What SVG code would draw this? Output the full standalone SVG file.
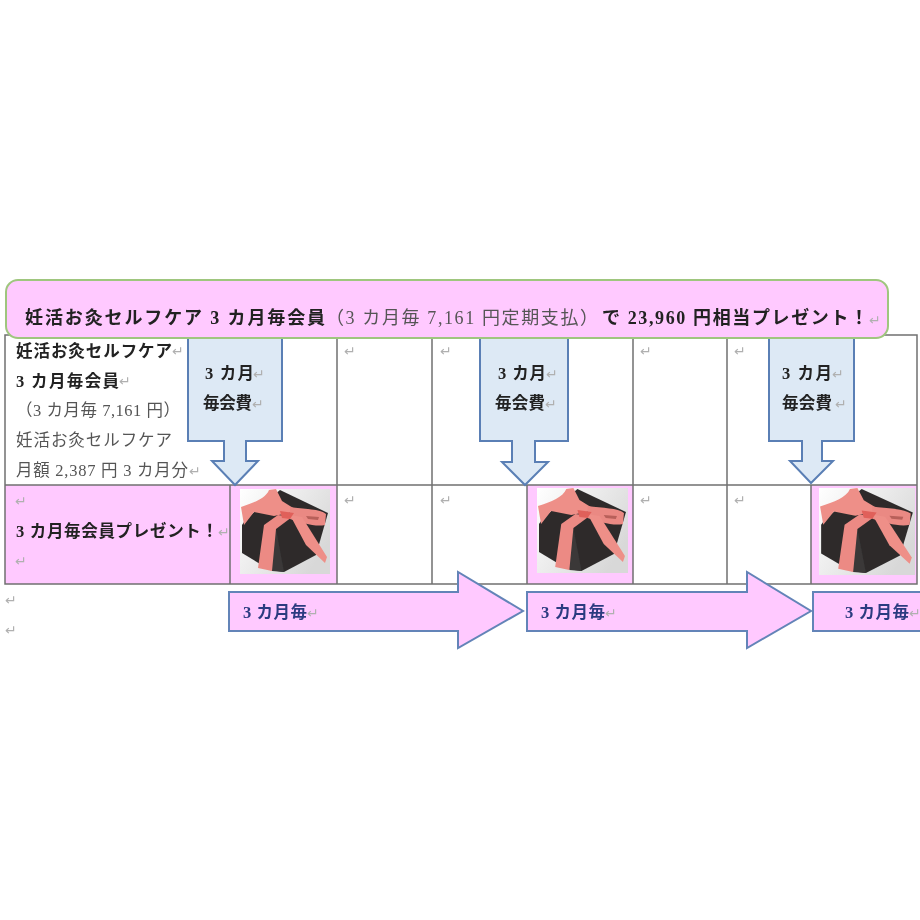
<svg xmlns="http://www.w3.org/2000/svg" width="920" height="920" viewBox="0 0 920 920">
<style>
text{font-family:"Liberation Serif","Noto Sans CJK JP",serif;fill:#222}
.b{font-weight:700}
.r{fill:#555}
.t{font-size:18px;font-weight:700;fill:#222}
.tr{font-size:18px;fill:#555}
.c{font-size:16.5px}
.m{font-family:"DejaVu Sans",sans-serif;font-size:14px;fill:#b0b0b0}
.l{stroke:#707070;stroke-width:1.5;fill:none}
.pink{fill:#ffc9ff}
.down{fill:#dde9f5;stroke:#5a7fb5;stroke-width:2}
.right{fill:#ffc9ff;stroke:#6484b8;stroke-width:2}
.n{font-size:16.5px;font-weight:700;fill:#2c3b80}
</style>
<defs>
<filter id="soft" x="-2%" y="-2%" width="104%" height="104%"><feGaussianBlur stdDeviation="0.7"/></filter>
<linearGradient id="bg" x1="0" y1="0" x2="1" y2="0.6"><stop offset="0" stop-color="#ffffff"/><stop offset="1" stop-color="#d8d8d8"/></linearGradient>
<symbol id="gift" viewBox="0 0 90 85" preserveAspectRatio="none">
<rect width="90" height="85" fill="url(#bg)"/>
<path d="M6 30 40 1 88 24 76 66 44 83 30 81 2 64 2 36Z" fill="#2e2c2c"/>
<path d="M36 40 44 83 32 82 26 42Z" fill="#3a3838"/>
<path d="M38 26 24 36 18 79 32 82 36 40 52 28Z" fill="#ec8a84"/>
<path d="M1 18C14 14 26 9 29 1L36 0 42 12 58 22 34 27 14 23 4 36Z" fill="#ee8f88"/>
<path d="M50 18C65 20 80 20 86 25L85 36C75 38 62 34 50 30Z" fill="#ea8983"/>
<path d="M50 26 62 28 87 68 85 74 66 56Z" fill="#ee8f88"/>
<path d="M66 27 79 28 78 31 68 30Z" fill="#b8605a"/>
<path d="M40 22 54 24 50 30 42 29Z" fill="#e0605a"/>
</symbol>
</defs>
<rect width="920" height="920" fill="#fff"/>
<g filter="url(#soft)">
<g id="table">
<rect class="pink" x="5" y="485" width="225" height="99"/>
<rect class="pink" x="230" y="485" width="107" height="99"/>
<rect class="pink" x="527" y="485" width="106" height="99"/>
<rect class="pink" x="811" y="485" width="106" height="99"/>
<path class="l" d="M5 335H917V584H5ZM5 485H917M337 335V584M432 335V584M633 335V584M727 335V584M230 485V584M527 485V584M811 485V584"/>
</g>
<g id="cell-text">
<text class="c b" x="16" y="357" textLength="156">妊活お灸セルフケア</text>
<text class="c b" x="16" y="387" textLength="103">3 カ月毎会員</text>
<text class="c r" x="16" y="416" textLength="164">（3 カ月毎 7,161 円）</text>
<text class="c r" x="16" y="446" textLength="156">妊活お灸セルフケア</text>
<text class="c r" x="16" y="476" textLength="172">月額 2,387 円 3 カ月分</text>
<text class="c b" x="16" y="537" textLength="202">3 カ月毎会員プレゼント！</text>
<text class="m" x="172" y="356">↵</text><text class="m" x="119" y="386">↵</text><text class="m" x="189" y="476">↵</text><text class="m" x="218" y="537">↵</text>
<text class="m" x="15" y="506">↵</text><text class="m" x="15" y="566">↵</text>
<text class="m" x="5" y="605">↵</text><text class="m" x="5" y="635">↵</text>
<text class="m" x="344" y="356">↵</text><text class="m" x="440" y="356">↵</text><text class="m" x="640" y="356">↵</text><text class="m" x="734" y="356">↵</text>
<text class="m" x="344" y="505">↵</text><text class="m" x="440" y="505">↵</text><text class="m" x="640" y="505">↵</text><text class="m" x="734" y="505">↵</text>
</g>
<g id="gift-1"><use href="#gift" x="240" y="489" width="90" height="85"/></g>
<g id="gift-2"><use href="#gift" x="537" y="488" width="91" height="85"/></g>
<g id="gift-3"><use href="#gift" x="819" y="488" width="96" height="87"/></g>
<g id="connectors">
<g id="down-1"><path class="down" d="M188 337H282V441H246V461H258L235 485 212 461H224V441H188Z"/>
<text class="c b" x="205" y="379" textLength="49">3 カ月</text><text class="c b" x="203" y="409" textLength="49">毎会費</text><text class="m" x="253" y="379">↵</text><text class="m" x="252" y="409">↵</text></g>
<g id="down-2"><path class="down" d="M480 337H568V441H535V462H548L525 485 502 462H512V441H480Z"/>
<text class="c b" x="498" y="379" textLength="48">3 カ月</text><text class="c b" x="495" y="409" textLength="50">毎会費</text><text class="m" x="546" y="379">↵</text><text class="m" x="545" y="409">↵</text></g>
<g id="down-3"><path class="down" d="M769 337H854V441H822V461H833L811 483 790 461H802V441H769Z"/>
<text class="c b" x="782" y="379" textLength="50">3 カ月</text><text class="c b" x="782" y="409" textLength="50">毎会費</text><text class="m" x="832" y="379">↵</text><text class="m" x="835" y="409">↵</text></g>
<g id="right-1"><path class="right" d="M229 592H458V572L523 611 458 648V631H229Z"/>
<text class="n" x="243" y="618" textLength="64">3 カ月毎</text><text class="m" x="307" y="618">↵</text></g>
<g id="right-2"><path class="right" d="M527 592H747V572L811 611 747 648V631H527Z"/>
<text class="n" x="541" y="618" textLength="64">3 カ月毎</text><text class="m" x="605" y="618">↵</text></g>
<g id="right-3"><path class="right" d="M921 592H813V631H921"/>
<text class="n" x="845" y="618" textLength="64">3 カ月毎</text><text class="m" x="909" y="618">↵</text></g>
</g>
<g id="title">
<rect x="6" y="280" width="882" height="58" rx="12" fill="#ffc9ff" stroke="#9fc67e" stroke-width="2"/>
<text class="t" x="25" y="324" textLength="300">妊活お灸セルフケア 3 カ月毎会員</text>
<text class="tr" x="326" y="324" textLength="272">（3 カ月毎 7,161 円定期支払）</text>
<text class="t" x="602" y="324" textLength="266">で 23,960 円相当プレゼント！</text>
<text class="m" x="869" y="325">↵</text>
</g>
</g>
</svg>
